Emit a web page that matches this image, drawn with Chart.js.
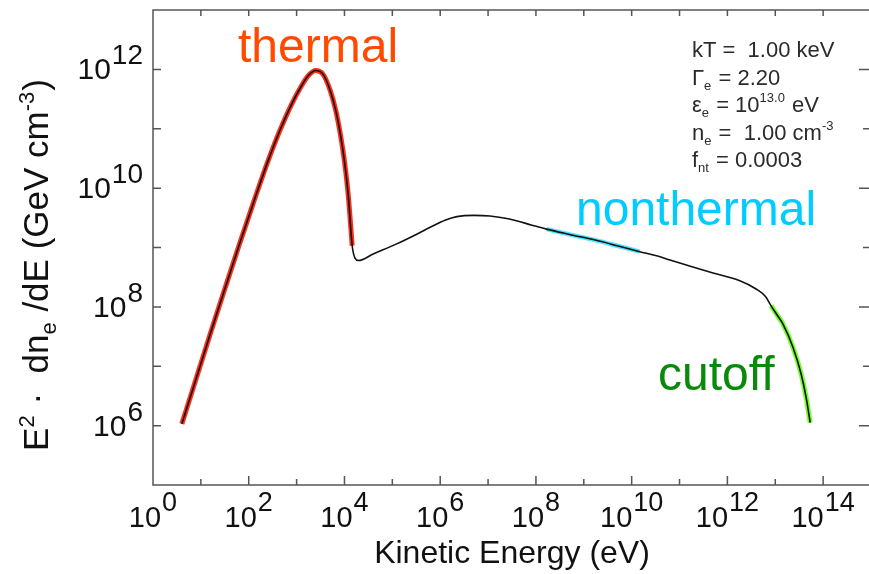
<!DOCTYPE html>
<html><head><meta charset="utf-8">
<script src="https://cdn.jsdelivr.net/npm/chart.js@4.4.1/dist/chart.umd.min.js"></script>
<style>html,body{margin:0;padding:0;background:#fff;overflow:hidden}canvas{display:block}</style>
</head><body><canvas id="c" width="873" height="574"></canvas>
<script>
// Kinetic energy (eV) of each traced point
const energyEV = [
  4.0, 7.9, 15.8, 31.6, 63.1, 126, 251, 447, 794, 1.26e3,
  1.78e3, 2.51e3, 3.55e3, 5.01e3, 6.61e3, 8.32e3, 1.0e4, 1.20e4, 1.45e4, 1.66e4,
  1.95e4, 3.98e4, 1.23e5, 3.16e5, 6.17e5, 1.26e6, 2.24e6, 5.01e6, 1.10e7, 2.00e7,
  3.89e7, 7.94e7, 1.66e8, 5.01e8, 1.82e9, 5.01e9, 1.48e10, 3.31e10, 6.31e10, 1.62e11,
  5.01e11, 1.82e12, 3.98e12, 6.31e12, 8.13e12, 1.12e13, 1.45e13, 2.34e13, 3.47e13, 4.47e13,
  5.37e13
];
// E^2 dn/dE (GeV cm^-3) at each energy
const fluxE2 = [
  1.07e6, 6.03e6, 3.55e7, 2.00e8, 1.10e9, 5.75e9, 2.82e10, 9.33e10, 2.63e11, 5.25e11,
  7.94e11, 9.55e11, 8.32e11, 4.47e11, 2.00e11, 7.59e10, 2.82e10, 7.59e9, 1.07e9, 6.61e8,
  6.03e8, 7.76e8, 1.15e9, 1.66e9, 2.19e9, 2.88e9, 3.31e9, 3.47e9, 3.39e9, 3.16e9,
  2.82e9, 2.40e9, 2.04e9, 1.66e9, 1.32e9, 1.07e9, 8.51e8, 7.24e8, 6.17e8, 4.90e8,
  3.72e8, 2.75e8, 2.00e8, 1.48e8, 1.05e8, 7.08e7, 5.13e7, 2.09e7, 7.41e6, 2.82e6,
  1.12e6
];
// highlighted parts of the spectrum (energy bounds, eV)
const thermalRange = [4.0, 1.45e4];
const nonthermalRange = [1.66e8, 1.48e10];
const cutoffRange = [8.13e12, 5.37e13];
// axis decades
const xLabelExponents = [0, 2, 4, 6, 8, 10, 12, 14];
const yLabelExponents = [6, 8, 10, 12];
const xTickExponents = [1,2,3,4,5,6,7,8,9,10,11,12,13,14];
const yTickExponents = [6,7,8,9,10,11,12];
// parameter box lines: [text, style]
const paramLines = [
  [["kT =  1.00 keV","n"]],
  [["\u0393","n"],["e","sub"],[" = 2.20","n"]],
  [["\u03b5","n"],["e","sub"],[" = 10","n"],["13.0","sup"],[" eV","n"]],
  [["n","n"],["e","sub"],[" =  1.00 cm","n"],["-3","sup"]],
  [["f","n"],["nt","sub"],[" = 0.0003","n"]]
];
const yTitleParts = [["E","n"],["2","sup"],[" \u00b7  dn","n"],["e","sub"],[" /dE (GeV cm","n"],["-3","sup"],[")","n"]];
const xTitle = "Kinetic Energy (eV)";
const regionLabels = ["thermal", "nonthermal", "cutoff"];

const FONT = "'Liberation Sans', Arial, Helvetica, sans-serif";
const points = energyEV.map((e, i) => ({x: e, y: fluxE2[i]}));
const inRange = r => points.filter(p => p.x >= r[0] && p.x <= r[1]);

function drawPow(ctx, base, exp, x, y, align, bSize, eSize, raise) {
  ctx.font = bSize + "px " + FONT;
  const wb = ctx.measureText(base).width;
  ctx.font = eSize + "px " + FONT;
  const we = ctx.measureText(exp).width;
  const total = wb + we + 1;
  let start = align === "center" ? x - total / 2 : x - total;
  ctx.textAlign = "left";
  ctx.font = bSize + "px " + FONT;
  ctx.fillText(base, start, y);
  ctx.font = eSize + "px " + FONT;
  ctx.fillText(exp, start + wb + 1, y - raise);
}

function richWidth(ctx, parts, size, small) {
  let w = 0;
  for (const [t, s] of parts) {
    ctx.font = (s === "n" ? size : small) + "px " + FONT;
    w += ctx.measureText(t).width + (s === "n" ? 0 : 1);
  }
  return w;
}
function drawRich(ctx, parts, x, y, size, small, subDy, supDy) {
  let cx = x;
  for (const [t, s] of parts) {
    const sz = s === "n" ? size : small;
    ctx.font = sz + "px " + FONT;
    const dy = s === "sub" ? subDy : (s === "sup" ? supDy : 0);
    ctx.fillText(t, cx, y + dy);
    cx += ctx.measureText(t).width + (s === "n" ? 0 : 1);
  }
}

const framePlugin = {
  id: "frame",
  afterDraw(chart) {
    const {ctx, chartArea: a, scales: {x, y}} = chart;
    ctx.save();
    ctx.strokeStyle = "#555";
    ctx.lineWidth = 1.5;
    ctx.strokeRect(a.left, a.top, a.right - a.left, a.bottom - a.top);
    ctx.beginPath();
    for (const e of xTickExponents) {
      const px = x.getPixelForValue(Math.pow(10, e));
      const major = e % 2 === 0;
      ctx.moveTo(px, a.bottom); ctx.lineTo(px, a.bottom - (major ? 9 : 6));
      ctx.moveTo(px, a.top); ctx.lineTo(px, a.top + 6);
    }
    for (const e of yTickExponents) {
      const py = y.getPixelForValue(Math.pow(10, e));
      const major = e % 2 === 0;
      ctx.moveTo(a.left, py); ctx.lineTo(a.left + 8, py);
      ctx.moveTo(a.right, py); ctx.lineTo(a.right - (major ? 12 : 8), py);
    }
    ctx.stroke();

    ctx.fillStyle = "#111";
    ctx.textBaseline = "alphabetic";
    for (const e of xLabelExponents) {
      const px = x.getPixelForValue(Math.pow(10, e));
      drawPow(ctx, "10", String(e), px, a.bottom + 42, "center", 29, 27, 16);
    }
    for (const e of yLabelExponents) {
      const py = y.getPixelForValue(Math.pow(10, e));
      drawPow(ctx, "10", String(e), a.left - 10, py + 10, "right", 30, 28, 15);
    }
    // axis titles
    ctx.textAlign = "center";
    ctx.font = "32px " + FONT;
    ctx.fillText(xTitle, (a.left + a.right) / 2, 563);

    ctx.save();
    ctx.translate(48, 265);
    ctx.rotate(-Math.PI / 2);
    ctx.textAlign = "left";
    const w = richWidth(ctx, yTitleParts, 35, 22);
    drawRich(ctx, yTitleParts, -w / 2, 0, 35, 22, 8, -14);
    ctx.restore();

    // parameter box
    ctx.fillStyle = "#2b2b2b";
    ctx.textAlign = "left";
    paramLines.forEach((ln, i) => drawRich(ctx, ln, 692, 57 + i * 27.5, 22, 13, 5, -10));

    // region labels
    ctx.font = "48px " + FONT;
    ctx.fillStyle = "#ff4a00";
    ctx.fillText(regionLabels[0], 238, 62);
    ctx.fillStyle = "#00ccff";
    ctx.fillText(regionLabels[1], 576, 225);
    ctx.fillStyle = "#0a8a0a";
    ctx.fillText(regionLabels[2], 658, 390);
    ctx.restore();
  }
};

const common = {showLine: true, pointRadius: 0, fill: false, cubicInterpolationMode: "monotone"};
new Chart(document.getElementById("c"), {
  type: "scatter",
  data: {
    datasets: [
      Object.assign({label: "spectrum", data: points, borderColor: "#111", borderWidth: 1.6}, common),
      Object.assign({label: "thermal", data: inRange(thermalRange), borderColor: "rgba(255,35,15,0.95)", borderWidth: 5}, common),
      Object.assign({label: "nonthermal", data: inRange(nonthermalRange), borderColor: "rgba(60,225,255,0.9)", borderWidth: 4.5}, common),
      Object.assign({label: "cutoff", data: inRange(cutoffRange), borderColor: "rgba(110,255,30,0.95)", borderWidth: 5}, common)
    ]
  },
  options: {
    responsive: false,
    animation: false,
    devicePixelRatio: 1,
    layout: {padding: {left: 153, top: 10, right: 2, bottom: 89}},
    plugins: {legend: {display: false}, tooltip: {enabled: false}},
    scales: {
      x: {type: "logarithmic", min: 1, max: 1e15, display: false},
      y: {type: "logarithmic", min: 1e5, max: 1e13, display: false}
    }
  },
  plugins: [framePlugin]
});
</script>
</body></html>
